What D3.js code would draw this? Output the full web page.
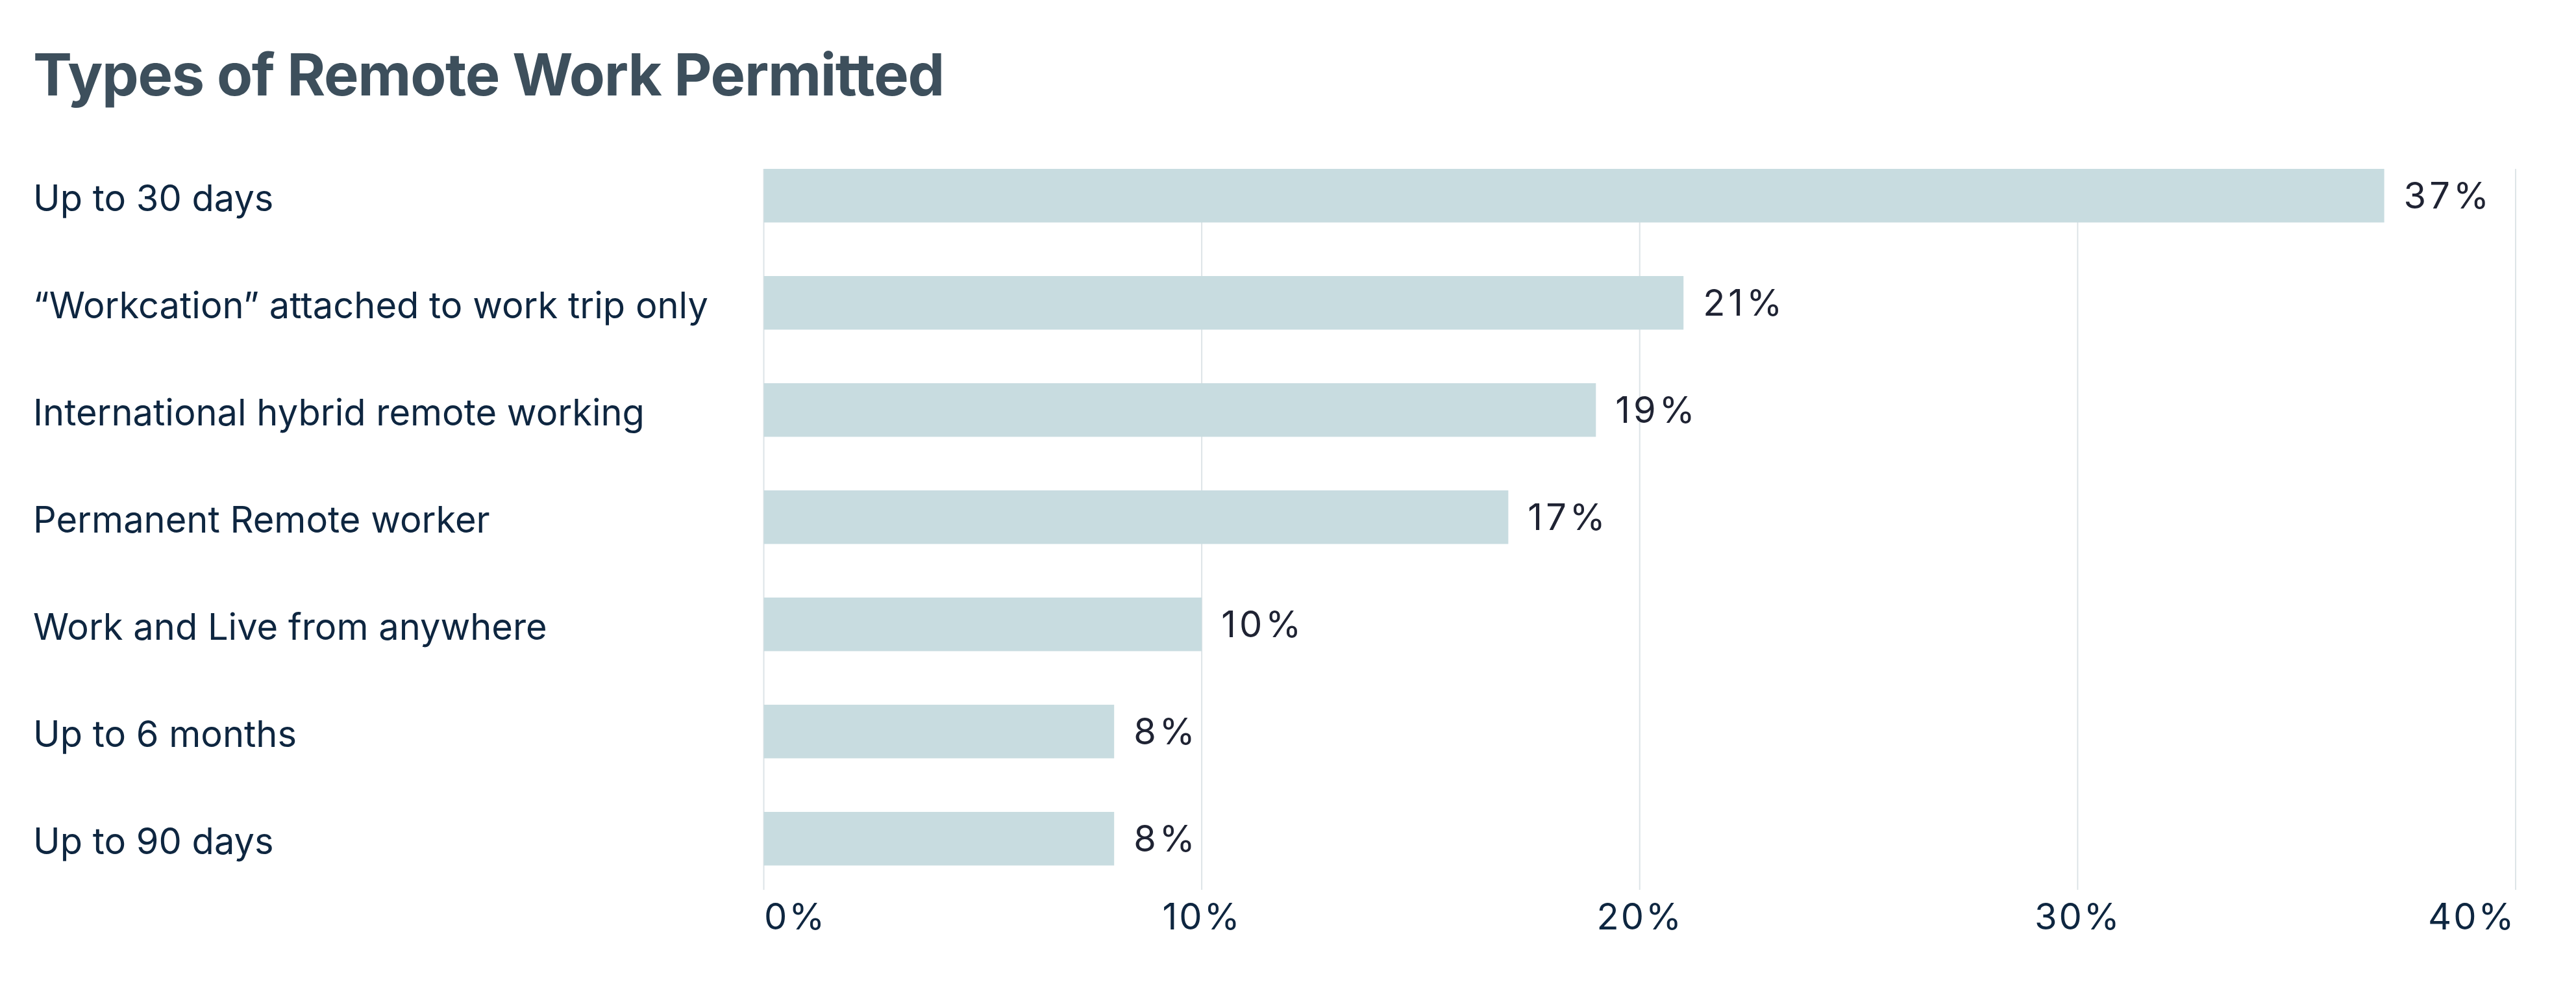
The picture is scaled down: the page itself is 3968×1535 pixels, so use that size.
<!DOCTYPE html>
<html>
<head>
<meta charset="utf-8">
<script src="https://cdn.jsdelivr.net/npm/d3@7"></script>
<style>
  body { margin: 0; background: #fff; }
  text { font-family: Inter, "Noto Sans", sans-serif; }
</style>
</head>
<body>
<div id="chart"></div>
<script>
// chart data
var categories = [
    "Up to 30 days",
    "\u201cWorkcation\u201d attached to work trip only",
    "International hybrid remote working",
    "Permanent Remote worker",
    "Work and Live from anywhere",
    "Up to 6 months",
    "Up to 90 days"
];
var values = [37, 21, 19, 17, 10, 8, 8];
var tickValues = [0, 10, 20, 30, 40];
var title = "Types of Remote Work Permitted";

var svgWidth = 3968;
var svgHeight = 1535;

var margin = { top: 260, left: 1176.5, right: 93, bottom: 165 };

var svg = d3.select("#chart")
    .append("svg")
    .attr("width", svgWidth)
    .attr("height", svgHeight);

// scales
var x = d3.scaleLinear()
    .domain([0, 40])
    .range([margin.left, svgWidth - margin.right]);

var y = d3.scaleBand()
    .domain(categories)
    .range([margin.top, 1332.5])
    .paddingInner(0.5)
    .paddingOuter(0);

var gridBottom = 1370;

// title
svg.append("text")
    .attr("x", 51)
    .attr("y", 147)
    .attr("fill", "#3d4f5c")
    .attr("font-size", 90)
    .attr("font-weight", 700)
    .attr("letter-spacing", -1.3)
    .text(title);

// gridlines
svg.append("g")
    .selectAll("line")
    .data(tickValues)
    .enter()
    .append("line")
    .attr("x1", d => x(d))
    .attr("x2", d => x(d))
    .attr("y1", margin.top)
    .attr("y2", gridBottom)
    .attr("stroke", "#dde4e7")
    .attr("stroke-width", 2);

// bars
svg.append("g")
    .selectAll("rect")
    .data(values)
    .enter()
    .append("rect")
    .attr("x", x(0))
    .attr("y", (d, i) => y(categories[i]))
    .attr("width", d => x(d) - x(0))
    .attr("height", y.bandwidth())
    .attr("fill", "#c8dce0");

// category labels
svg.append("g")
    .selectAll("text")
    .data(categories)
    .enter()
    .append("text")
    .attr("x", 51)
    .attr("y", d => y(d) + y.bandwidth() / 2 + 24)
    .attr("fill", "#0e2640")
    .attr("font-size", 56)
    .text(d => d);

// value labels
svg.append("g")
    .selectAll("text")
    .data(values)
    .enter()
    .append("text")
    .attr("x", d => x(d) + 30)
    .attr("y", (d, i) => y(categories[i]) + y.bandwidth() / 2 + 20)
    .attr("fill", "#1f2333")
    .attr("font-size", 56)
    .attr("letter-spacing", 5)
    .text(d => d + "%");

// x axis tick labels
var xAxis = d3.axisBottom(x)
    .tickValues(tickValues)
    .tickFormat(d => d + "%")
    .tickSize(0)
    .tickPadding(0);

var axisG = svg.append("g")
    .attr("transform", "translate(0, 1431)")
    .call(xAxis);

axisG.select(".domain").remove();
axisG.selectAll("text")
    .attr("dy", 0)
    .attr("y", 0)
    .attr("fill", "#0e2640")
    .attr("font-size", 56)
    .attr("font-family", "Inter, 'Noto Sans', sans-serif")
    .attr("letter-spacing", 3)
    .attr("text-anchor", (d, i) => i === 0 ? "start" : (i === tickValues.length - 1 ? "end" : "middle"));
</script>
</body>
</html>
